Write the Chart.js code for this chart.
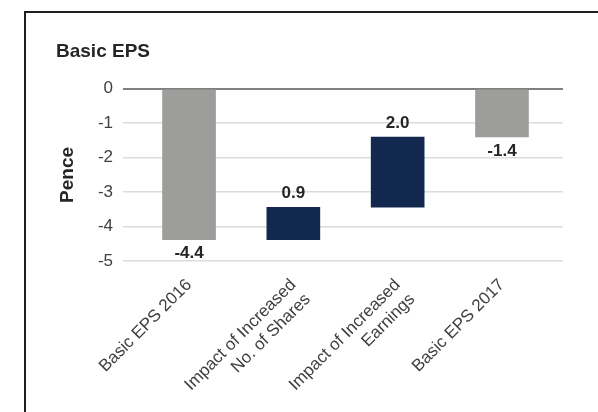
<!DOCTYPE html>
<html>
<head>
<meta charset="utf-8">
<script src="https://cdn.jsdelivr.net/npm/chart.js@4.4.1/dist/chart.umd.min.js"></script>
<style>
  html, body { margin: 0; padding: 0; background: #fff; }
  #wrap { position: relative; width: 598px; height: 412px; overflow: hidden; }
  #frame { position: absolute; left: 24px; top: 11px; right: -10px; bottom: -10px;
           border-left: 2px solid #1e1e1e; border-top: 2px solid #1e1e1e; pointer-events: none; }
  canvas { position: absolute; left: 0; top: 0; }
</style>
</head>
<body>
<div id="wrap">
  <canvas id="chart" width="598" height="412"></canvas>
  <div id="frame"></div>
</div>
<script>
// Waterfall from 2016 basic EPS to 2017 basic EPS (pence)
const categories = [
  ['Basic EPS 2016'],
  ['Impact of Increased', 'No. of Shares'],
  ['Impact of Increased', 'Earnings'],
  ['Basic EPS 2017']
];
const values = [-4.38, 0.94, 2.04, -1.40];
const kinds = ['total', 'delta', 'delta', 'total'];
const yTicks = [0, -1, -2, -3, -4, -5];

const FONT = '"Liberation Sans", Arial, sans-serif';
const GRAY = '#9d9d9b';
const NAVY = '#13284f';

// floating ranges: totals start at zero, deltas continue from the running total
let running = 0;
const ranges = values.map((v, i) => {
  if (kinds[i] === 'total') { running = v; return [0, v]; }
  const r = [running, running + v];
  running += v;
  return r;
});

const valueLabels = {
  id: 'valueLabels',
  afterDatasetsDraw(chart) {
    const { ctx, scales: { x, y } } = chart;
    ctx.save();
    ctx.font = 'bold 17px ' + FONT;
    ctx.fillStyle = '#262626';
    ctx.textAlign = 'center';
    ctx.textBaseline = 'middle';
    ranges.forEach((r, i) => {
      const px = x.getPixelForValue(i);
      let py;
      if (kinds[i] === 'total') py = y.getPixelForValue(Math.min(...r)) + 14;
      else py = y.getPixelForValue(Math.max(...r)) - 13.5;
      ctx.fillText(values[i].toFixed(1), px, py);
    });
    ctx.restore();
  }
};

new Chart(document.getElementById('chart'), {
  type: 'bar',
  data: {
    datasets: [{
      data: ranges.map((r, i) => ({ x: i, y: r })),
      backgroundColor: kinds.map(k => k === 'total' ? GRAY : NAVY),
      borderWidth: 0,
      barThickness: 53
    }]
  },
  options: {
    responsive: false,
    animation: false,
    layout: { padding: { left: 56, right: 35, top: 0, bottom: 0 } },
    plugins: {
      legend: { display: false },
      tooltip: { enabled: false },
      title: {
        display: true, text: 'Basic EPS', align: 'start', color: '#262626',
        font: { family: FONT, size: 19, weight: 'bold' },
        padding: { top: 40, bottom: 26 }
      }
    },
    scales: {
      x: {
        type: 'linear', offset: false, min: -0.633, max: 3.585,
        grid: { display: false }, border: { display: false },
        afterBuildTicks: s => { s.ticks = categories.map((_, i) => ({ value: i })); },
        afterFit: s => { s.height = 151; },
        ticks: {
          autoSkip: false, minRotation: 45, maxRotation: 45, padding: 6,
          color: '#404040', font: { family: FONT, size: 17 },
          callback: v => categories[v]
        }
      },
      y: {
        min: -5, max: 0,
        afterBuildTicks: s => { s.ticks = yTicks.map(v => ({ value: v })); },
        afterFit: s => { s.width = 67; },
        grid: {
          drawTicks: false,
          color: c => (c.tick && c.tick.value === 0) ? '#7f7f7f' : '#dcdcdc',
          lineWidth: c => (c.tick && c.tick.value === 0) ? 2 : 1.5
        },
        border: { display: false },
        ticks: { padding: 10, color: '#404040', font: { family: FONT, size: 17 } },
        title: {
          display: true, text: 'Pence', color: '#262626',
          font: { family: FONT, size: 19, weight: 'bold' },
          padding: { top: 0, bottom: 0 }
        }
      }
    }
  },
  plugins: [valueLabels]
});
</script>
</body>
</html>
